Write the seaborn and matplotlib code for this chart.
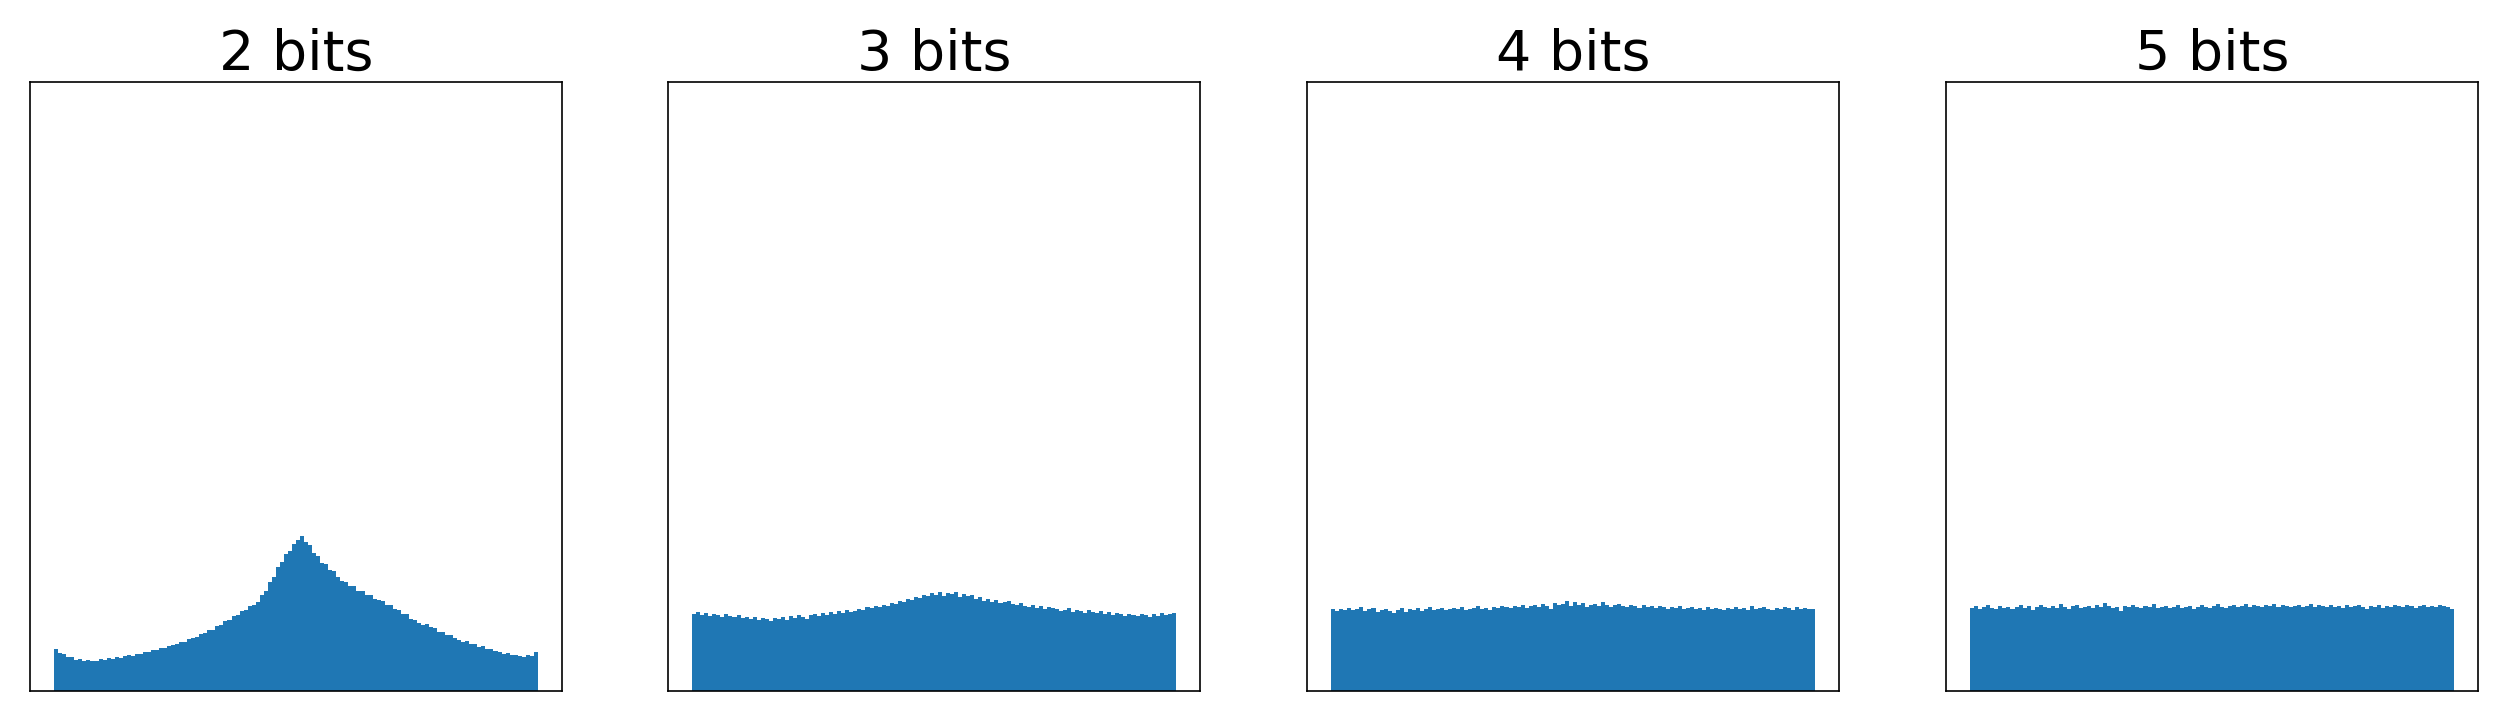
import numpy as np
import pandas as pd
import matplotlib
matplotlib.use("Agg")
import matplotlib.pyplot as plt
import seaborn as sns

titles = ["2 bits", "3 bits", "4 bits", "5 bits"]

# bar heights (counts), 120 bins each over [-1, 1]
counts_2bits = [
    42, 38, 37, 34, 34, 31, 32, 30, 31, 30,
    30, 32, 31, 33, 32, 34, 33, 35, 36, 35,
    37, 37, 39, 39, 41, 41, 43, 43, 45, 46,
    47, 49, 49, 52, 53, 54, 57, 58, 61, 61,
    65, 66, 70, 71, 75, 76, 80, 81, 85, 86,
    89, 96, 100, 109, 114, 124, 129, 137, 140, 147,
    151, 155, 149, 146, 138, 135, 128, 127, 121, 120,
    114, 110, 109, 105, 105, 100, 100, 96, 96, 92,
    91, 90, 86, 86, 82, 81, 77, 77, 72, 71,
    68, 66, 67, 64, 63, 59, 59, 56, 56, 53,
    51, 49, 50, 47, 47, 44, 45, 42, 42, 40,
    39, 37, 38, 36, 36, 35, 34, 36, 35, 39,
]
counts_3bits = [
    77, 79, 76, 78, 75, 77, 76, 74, 77, 75,
    74, 76, 73, 74, 72, 74, 71, 73, 72, 70,
    73, 72, 74, 71, 75, 73, 76, 74, 72, 76,
    77, 75, 78, 76, 79, 77, 80, 78, 81, 79,
    80, 82, 81, 84, 83, 85, 84, 86, 85, 88,
    87, 90, 89, 92, 91, 94, 93, 96, 95, 98,
    96, 99, 95, 98, 97, 99, 94, 97, 95, 96,
    92, 94, 90, 92, 89, 91, 88, 89, 90, 87,
    86, 88, 85, 84, 86, 83, 85, 82, 84, 83,
    82, 80, 81, 83, 79, 81, 80, 78, 81, 79,
    78, 80, 77, 79, 76, 78, 77, 75, 77, 76,
    75, 77, 76, 74, 77, 75, 78, 76, 77, 78,
]
counts_4bits = [
    82, 80, 82, 81, 83, 81, 82, 84, 80, 82,
    83, 79, 81, 82, 80, 78, 81, 83, 79, 82,
    81, 83, 80, 82, 84, 81, 82, 83, 81, 82,
    83, 82, 84, 81, 82, 83, 85, 82, 83, 81,
    84, 83, 85, 84, 83, 85, 84, 86, 83, 85,
    86, 84, 87, 85, 82, 88, 86, 87, 90, 85,
    89, 86, 88, 84, 86, 87, 85, 89, 86, 84,
    86, 87, 85, 84, 86, 85, 83, 86, 84, 85,
    83, 85, 84, 82, 84, 83, 85, 82, 83, 84,
    82, 83, 81, 84, 82, 83, 82, 81, 83, 82,
    84, 82, 83, 81, 85, 82, 83, 84, 82, 81,
    83, 82, 84, 83, 81, 84, 82, 83, 82, 82,
]
counts_5bits = [
    83, 85, 82, 84, 86, 83, 82, 85, 83, 84,
    82, 84, 86, 83, 85, 81, 84, 86, 84, 83,
    85, 83, 87, 84, 82, 85, 86, 83, 84, 85,
    83, 86, 84, 88, 85, 83, 84, 80, 85, 84,
    86, 84, 83, 85, 84, 87, 83, 84, 85, 83,
    84, 86, 83, 84, 85, 82, 84, 86, 84, 83,
    85, 87, 84, 83, 85, 86, 84, 85, 87, 84,
    86, 85, 84, 86, 85, 87, 84, 86, 85, 84,
    85, 86, 84, 85, 87, 84, 86, 85, 84, 86,
    84, 85, 83, 86, 84, 85, 86, 84, 82, 85,
    84, 86, 83, 85, 84, 86, 85, 84, 86, 85,
    83, 85, 86, 84, 85, 84, 86, 85, 84, 82,
]
all_counts = [counts_2bits, counts_3bits, counts_4bits, counts_5bits]

x_range = (-1.0, 1.0)
y_max = 608

sns.set_style("white")
plt.rcParams["font.family"] = ["DejaVu Sans"]
plt.rcParams["text.color"] = "black"

W, H = 2499, 713
fig = plt.figure(figsize=(W / 100, H / 100), dpi=100)
lefts = [30, 668, 1307, 1946]
ax_w, ax_b, ax_h = 532, 22, 609

for left, title, counts in zip(lefts, titles, all_counts):
    ax = fig.add_axes([left / W, ax_b / H, ax_w / W, ax_h / H])
    n = len(counts)
    edges = np.linspace(x_range[0], x_range[1], n + 1)
    centers = (edges[:-1] + edges[1:]) / 2
    df = pd.DataFrame({"value": centers, "count": np.asarray(counts, dtype=float)})
    sns.histplot(data=df, x="value", weights="count", bins=n, binrange=x_range,
                 element="step", fill=True, alpha=1.0, linewidth=0,
                 color="#1f77b4", ax=ax)
    span = x_range[1] - x_range[0]
    ax.set_xlim(x_range[0] - 0.05 * span, x_range[1] + 0.05 * span)
    ax.set_ylim(0, y_max)
    ax.set_xticks([])
    ax.set_yticks([])
    ax.set_xlabel("")
    ax.set_ylabel("")
    for s in ax.spines.values():
        s.set_visible(True)
        s.set_color("black")
        s.set_linewidth(1.2)
    ax.set_title(title, fontsize=40, pad=6, color="black")

fig.savefig("out.png", dpi=100)
